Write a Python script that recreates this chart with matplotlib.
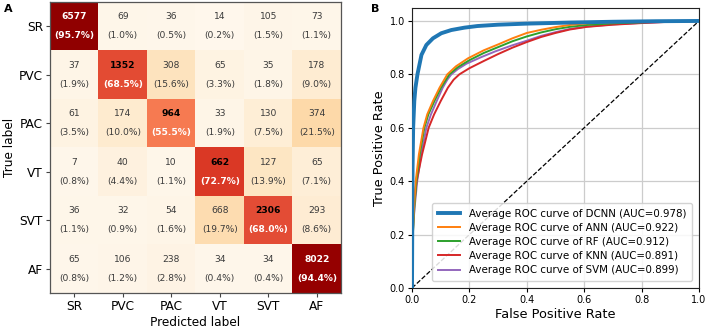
import numpy as np
import matplotlib
matplotlib.use("Agg")
import matplotlib.pyplot as plt

classes = ["SR", "PVC", "PAC", "VT", "SVT", "AF"]
counts = [
    [6577, 69, 36, 14, 105, 73],
    [37, 1352, 308, 65, 35, 178],
    [61, 174, 964, 33, 130, 374],
    [7, 40, 10, 662, 127, 65],
    [36, 32, 54, 668, 2306, 293],
    [65, 106, 238, 34, 34, 8022],
]

fpr_dcnn = [0, 0.001, 0.002, 0.004, 0.008, 0.012, 0.019, 0.033, 0.05, 0.073, 0.102, 0.137, 0.183, 0.228, 0.3, 0.4, 0.55, 0.7, 0.85, 1.0]
tpr_dcnn = [0, 0.25, 0.45, 0.6, 0.7, 0.75, 0.8, 0.873, 0.91, 0.935, 0.954, 0.966, 0.975, 0.981, 0.986, 0.99, 0.994, 0.997, 0.999, 1.0]

fpr_ann = [0, 0.001, 0.003, 0.007, 0.013, 0.024, 0.04, 0.053, 0.073, 0.096, 0.123, 0.153, 0.195, 0.25, 0.3, 0.35, 0.4, 0.45, 0.5, 0.55, 0.61, 0.7, 0.8, 0.9, 1.0]
tpr_ann = [0, 0.1, 0.2, 0.3, 0.4, 0.5, 0.6, 0.65, 0.7, 0.75, 0.8, 0.83, 0.86, 0.89, 0.912, 0.935, 0.955, 0.967, 0.977, 0.985, 0.991, 0.995, 0.998, 0.999, 1.0]

fpr_rf = [0, 0.001, 0.003, 0.008, 0.015, 0.027, 0.043, 0.057, 0.078, 0.101, 0.13, 0.16, 0.2, 0.25, 0.3, 0.35, 0.4, 0.45, 0.5, 0.55, 0.61, 0.7, 0.8, 0.9, 1.0]
tpr_rf = [0, 0.1, 0.2, 0.3, 0.4, 0.5, 0.6, 0.65, 0.7, 0.75, 0.8, 0.827, 0.853, 0.88, 0.902, 0.924, 0.942, 0.957, 0.969, 0.978, 0.985, 0.991, 0.995, 0.998, 1.0]

fpr_knn = [0, 0.0005, 0.006, 0.016, 0.035, 0.058, 0.077, 0.1, 0.125, 0.145, 0.165, 0.2, 0.25, 0.3, 0.35, 0.4, 0.45, 0.5, 0.55, 0.61, 0.7, 0.8, 0.9, 1.0]
tpr_knn = [0, 0.2, 0.3, 0.4, 0.5, 0.6, 0.65, 0.7, 0.75, 0.78, 0.8, 0.823, 0.85, 0.876, 0.9, 0.921, 0.94, 0.955, 0.968, 0.978, 0.986, 0.992, 0.997, 1.0]

fpr_svm = [0, 0.001, 0.002, 0.009, 0.018, 0.032, 0.05, 0.066, 0.086, 0.107, 0.123, 0.137, 0.16, 0.19, 0.24, 0.29, 0.35, 0.4, 0.45, 0.5, 0.55, 0.61, 0.7, 0.8, 0.9, 1.0]
tpr_svm = [0, 0.1, 0.2, 0.3, 0.4, 0.5, 0.6, 0.65, 0.7, 0.75, 0.78, 0.8, 0.82, 0.84, 0.864, 0.886, 0.909, 0.926, 0.944, 0.958, 0.97, 0.979, 0.987, 0.993, 0.997, 1.0]

labels = [
    "Average ROC curve of DCNN (AUC=0.978)",
    "Average ROC curve of ANN (AUC=0.922)",
    "Average ROC curve of RF (AUC=0.912)",
    "Average ROC curve of KNN (AUC=0.891)",
    "Average ROC curve of SVM (AUC=0.899)",
]
colors = ["#1f77b4", "#ff7f0e", "#2ca02c", "#d62728", "#9467bd"]

cm = np.array(counts, dtype=float)
pct = cm / cm.sum(axis=1, keepdims=True)

fig = plt.figure(figsize=(7.09, 3.29), dpi=100)

# Panel A
ax1 = fig.add_axes([50/709, 1-293/329, 291/709, 291/329])
ax1.imshow(pct, cmap="OrRd", vmin=0, vmax=1, aspect="auto")
n = len(classes)
for i in range(n):
    for j in range(n):
        c = counts[i][j]
        p = pct[i, j] * 100
        if i == j:
            top_col = "white" if pct[i, j] > 0.9 else "black"
            ax1.text(j, i - 0.2, f"{c}", ha="center", va="center", fontsize=6.6,
                     fontweight="bold", color=top_col)
            ax1.text(j, i + 0.2, f"({p:.1f}%)", ha="center", va="center", fontsize=6.6,
                     fontweight="bold", color="white")
        else:
            ax1.text(j, i - 0.2, f"{c}", ha="center", va="center", fontsize=6.6, color="#3a3a3a")
            ax1.text(j, i + 0.2, f"({p:.1f}%)", ha="center", va="center", fontsize=6.6, color="#3a3a3a")
ax1.set_xticks(range(n))
ax1.set_yticks(range(n))
ax1.set_xticklabels(classes, fontsize=8.7)
ax1.set_yticklabels(classes, fontsize=8.7)
ax1.set_xlabel("Predicted label", fontsize=8.7, labelpad=2)
ax1.set_ylabel("True label", fontsize=8.7, labelpad=2)
ax1.tick_params(length=3, color="#444444", pad=2)
for s in ax1.spines.values():
    s.set_color("#555555")
    s.set_linewidth(0.9)

# Panel B
ax2 = fig.add_axes([412/709, 1-288/329, 287/709, 280.4/329])
series = [(fpr_dcnn, tpr_dcnn), (fpr_ann, tpr_ann), (fpr_rf, tpr_rf), (fpr_knn, tpr_knn), (fpr_svm, tpr_svm)]
for k, ((fx, ty), lab, col) in enumerate(zip(series, labels, colors)):
    ax2.plot(fx, ty, color=col, lw=2.8 if k == 0 else 1.4, label=lab, zorder=3 + (5 - k))
ax2.plot([0, 1], [0, 1], "k--", lw=0.9, zorder=2)
ax2.set_xlim(0, 1)
ax2.set_ylim(0, 1.05)
ax2.set_xticks([0, 0.2, 0.4, 0.6, 0.8, 1.0])
ax2.set_yticks([0, 0.2, 0.4, 0.6, 0.8, 1.0])
ax2.tick_params(labelsize=7, length=3, pad=2)
ax2.grid(True, color="#cccccc", lw=0.9)
ax2.set_axisbelow(True)
ax2.set_xlabel("False Positive Rate", fontsize=9.3, labelpad=2)
ax2.set_ylabel("True Positive Rate", fontsize=9.3, labelpad=3)
for s in ax2.spines.values():
    s.set_color("#222222")
ax2.legend(loc="lower right", fontsize=7.4, handlelength=2.2, labelspacing=0.4,
           borderpad=0.55, framealpha=0.85, borderaxespad=0.7)

fig.text(4/709, 1-12/329, "A", fontsize=8, fontweight="bold")
fig.text(371/709, 1-12/329, "B", fontsize=8, fontweight="bold")

fig.savefig("out.png", dpi=100)
